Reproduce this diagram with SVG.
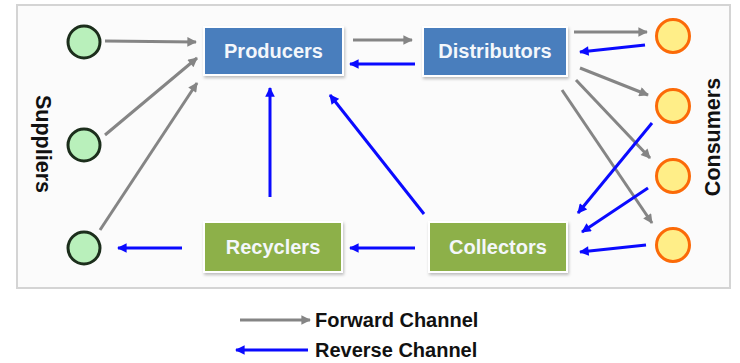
<svg xmlns="http://www.w3.org/2000/svg" width="740" height="363" viewBox="0 0 740 363">
<defs>
<style>
.frame{fill:#fbfbfb;stroke:#d4d4d4;stroke-width:2}
.box{stroke:#ffffff;stroke-width:2}
.blue{fill:#4a7ebd}
.green{fill:#8db048}
.lbl{font-family:"Liberation Sans",Arial,sans-serif;font-weight:bold;font-size:20px;fill:#f4f7fb;text-anchor:middle}
.side{font-family:"Liberation Sans",Arial,sans-serif;font-weight:bold;font-size:21.5px;fill:#111;text-anchor:middle}
.leg{font-family:"Liberation Sans",Arial,sans-serif;font-weight:bold;font-size:20px;fill:#111}
.sup{fill:#b9f0bb;stroke:#1c2e1c;stroke-width:3}
.con{fill:#ffee88;stroke:#fb6a08;stroke-width:3}
.fw{stroke:#858585;stroke-width:3;fill:none;marker-end:url(#ag)}
.rv{stroke:#0a0aff;stroke-width:3;fill:none;marker-end:url(#ab)}
</style>
<marker id="ag" viewBox="0 0 10 10" refX="9" refY="5" markerWidth="3.6" markerHeight="3.2" orient="auto" markerUnits="strokeWidth">
<path d="M0,0 L10,5 L0,10 z" fill="#858585"/>
</marker>
<marker id="ab" viewBox="0 0 10 10" refX="9" refY="5" markerWidth="3.6" markerHeight="3.2" orient="auto" markerUnits="strokeWidth">
<path d="M0,0 L10,5 L0,10 z" fill="#0a0aff"/>
</marker>
<filter id="sh" x="-10%" y="-10%" width="130%" height="140%">
<feDropShadow dx="1" dy="2" stdDeviation="1.5" flood-color="#000" flood-opacity="0.25"/>
</filter>
</defs>
<rect x="0" y="0" width="740" height="363" fill="#ffffff"/>
<rect class="frame" x="17" y="5" width="713" height="283"/>

<g id="connectors">
<line class="fw" x1="105" y1="41" x2="196" y2="42"/>
<line class="fw" x1="105" y1="135" x2="197" y2="58"/>
<line class="fw" x1="100" y1="230" x2="197" y2="83"/>
<line class="fw" x1="353" y1="40" x2="412" y2="40"/>
<line class="fw" x1="574" y1="32" x2="647" y2="32"/>
<line class="fw" x1="580" y1="68" x2="648" y2="95"/>
<line class="fw" x1="576" y1="80" x2="650" y2="158"/>
<line class="fw" x1="562" y1="90" x2="652" y2="223"/>
<line class="rv" x1="645" y1="45" x2="580" y2="52"/>
<line class="rv" x1="415" y1="64" x2="350" y2="64"/>
<line class="rv" x1="424" y1="214" x2="330" y2="95"/>
<line class="rv" x1="270" y1="197" x2="270" y2="88"/>
<line class="rv" x1="415" y1="248" x2="350" y2="248"/>
<line class="rv" x1="182" y1="248" x2="118" y2="248"/>
<line class="rv" x1="652" y1="123" x2="578" y2="213"/>
<line class="rv" x1="648" y1="188" x2="582" y2="232"/>
<line class="rv" x1="646" y1="245" x2="580" y2="252"/>
</g>

<g id="supplier1"><circle class="sup" cx="84" cy="42" r="16"/></g>
<g id="supplier2"><circle class="sup" cx="84" cy="145" r="16"/></g>
<g id="supplier3"><circle class="sup" cx="84" cy="248" r="16"/></g>

<g id="consumer1"><circle class="con" cx="673" cy="36" r="16.5"/></g>
<g id="consumer2"><circle class="con" cx="673" cy="106" r="16.5"/></g>
<g id="consumer3"><circle class="con" cx="673" cy="176" r="16.5"/></g>
<g id="consumer4"><circle class="con" cx="673" cy="245" r="16.5"/></g>

<g id="producers">
<rect class="box blue" x="204" y="27" width="139" height="48" filter="url(#sh)"/>
<text class="lbl" x="273.5" y="58">Producers</text>
</g>
<g id="distributors">
<rect class="box blue" x="423" y="27" width="144" height="49" filter="url(#sh)"/>
<text class="lbl" x="495" y="58">Distributors</text>
</g>
<g id="recyclers">
<rect class="box green" x="204" y="222" width="138" height="50" filter="url(#sh)"/>
<text class="lbl" x="273" y="254">Recyclers</text>
</g>
<g id="collectors">
<rect class="box green" x="429" y="222" width="138" height="50" filter="url(#sh)"/>
<text class="lbl" x="498" y="254">Collectors</text>
</g>

<g id="suppliers-label">
<text class="side" transform="translate(36,144) rotate(90)">Suppliers</text>
</g>
<g id="consumers-label">
<text class="side" transform="translate(720,137) rotate(-90)">Consumers</text>
</g>

<g id="legend">
<line class="fw" x1="240" y1="320" x2="310" y2="320"/>
<text class="leg" x="315" y="327">Forward Channel</text>
<line class="rv" x1="308" y1="350" x2="236" y2="350"/>
<text class="leg" x="315" y="357">Reverse Channel</text>
</g>
</svg>
